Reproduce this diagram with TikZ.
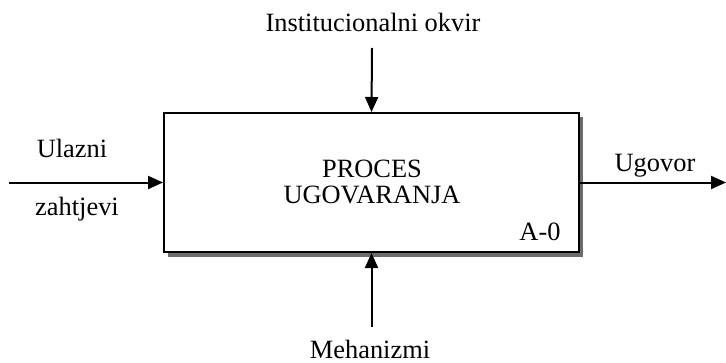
\documentclass[tikz,border=0pt]{standalone}
\usepackage{fontspec}
\setmainfont{Liberation Serif}
\usetikzlibrary{arrows.meta,positioning}

\tikzset{
  flow/.style={line width=1pt,-{Triangle[length=7.5pt,width=6.5pt]}},
  lbl/.style={anchor=base,inner sep=0pt,font=\fontsize{13.2}{16}\selectfont},
}

\begin{document}
\begin{tikzpicture}[x=0.5pt,y=-0.5pt]
                \useasboundingbox (0,0) rectangle (726,363);

                % shadow and the activity box
                \fill [gray!85!black] (168,117) rectangle (583,257);
                \node [draw,fill=white,line width=1pt,minimum width=207.5pt,minimum height=69.5pt,
                       inner sep=0pt] (box) at (371.5,182.5) {};

                \node[lbl] (proc)  at (372,177) {PROCES};
                \node[lbl] (ugov)  at (372,203) {UGOVARANJA};
                \node[lbl] (code)  at (540,240) {A-0};

                % the labels
                \node[lbl] (ctrl)  at (373,32)  {Institucionalni okvir};
                \node[lbl] (in1)   at (72,158)  {Ulazni};
                \node[lbl] (in2)   at (77,215)  {zahtjevi};
                \node[lbl] (out)   at (655,171) {Ugovor};
                \node[lbl] (mech)  at (370,358) {Mehanizmi};

                \coordinate (ctrlA) at (372,48);
                \coordinate (inA)   at (9,182.5);
                \coordinate (outB)  at (726,182.5);
                \coordinate (mechA) at (371.5,327);

                % the arrows
                \draw [flow] (ctrlA) -- (box.north);
                \draw [flow] (inA)   -- (box.west);
                \draw [flow] (box.east) -- (outB);
                \draw [flow] (mechA) -- (box.south);
              \end{tikzpicture}
\end{document}
